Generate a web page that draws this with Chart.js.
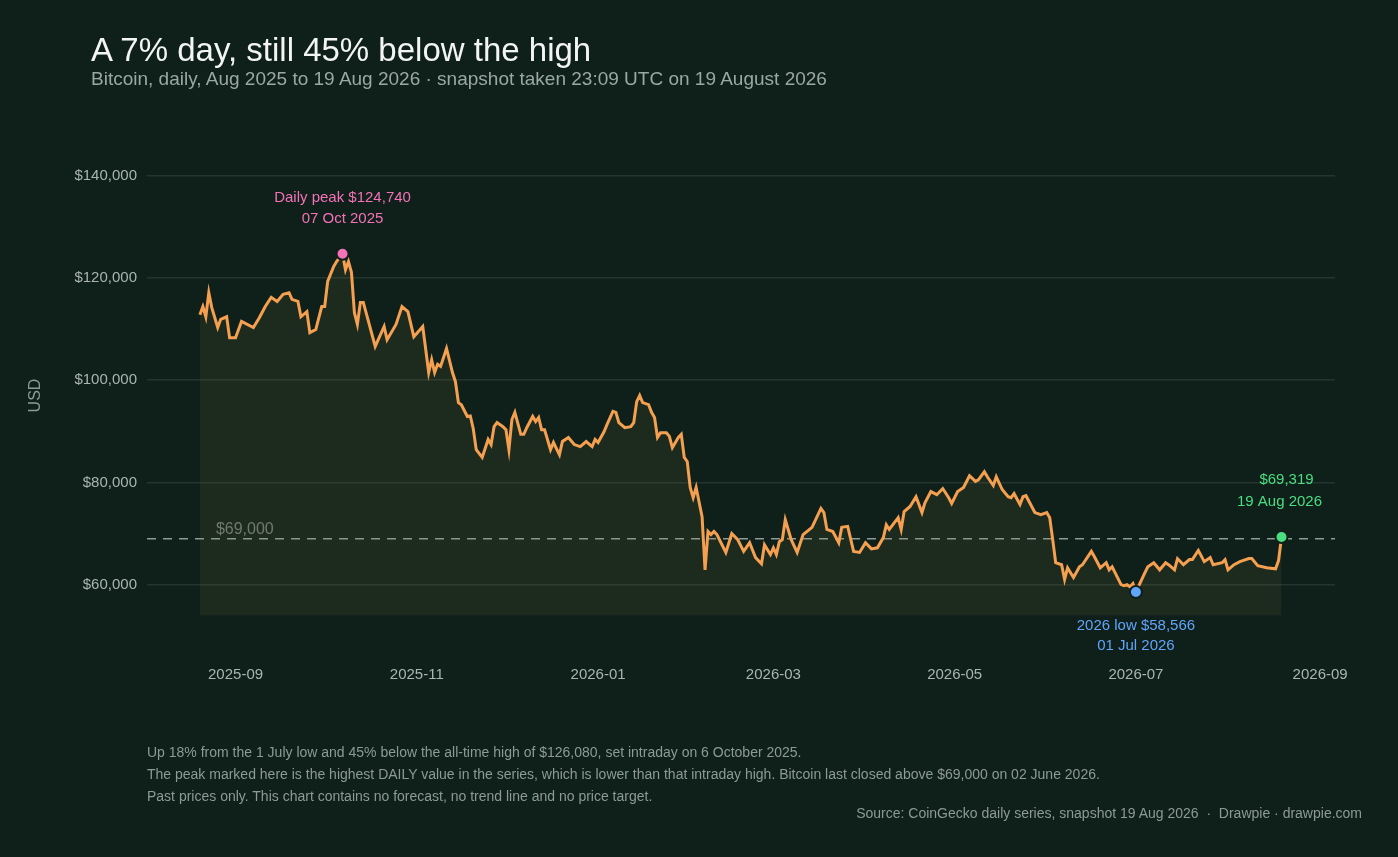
<!DOCTYPE html>
<html><head><meta charset="utf-8">
<script src="https://cdn.jsdelivr.net/npm/chart.js@4.4.1/dist/chart.umd.min.js"></script>
<style>
html,body{margin:0;padding:0;background:#0f1f1a;width:1398px;height:857px;overflow:hidden;font-family:"Liberation Sans",Arial,sans-serif}
#wrap{position:absolute;left:0;top:0;width:1398px;height:857px}
.t{position:absolute;white-space:nowrap}
</style></head><body>
<div id="wrap"><canvas id="c" width="1398" height="857"></canvas></div>
<div class="t" style="left:91px;top:31px;font-size:33px;color:#f2f5f3">A 7% day, still 45% below the high</div>
<div class="t" style="left:91px;top:68px;font-size:19px;color:#9aa8a2">Bitcoin, daily, Aug 2025 to 19 Aug 2026 · snapshot taken 23:09 UTC on 19 August 2026</div>
<div class="t" style="left:147px;top:741px;font-size:14px;line-height:22px;color:#8d9a95">Up 18% from the 1 July low and 45% below the all-time high of $126,080, set intraday on 6 October 2025.<br>The peak marked here is the highest DAILY value in the series, which is lower than that intraday high. Bitcoin last closed above $69,000 on 02 June 2026.<br>Past prices only. This chart contains no forecast, no trend line and no price target.</div>
<div class="t" style="right:36px;top:805px;font-size:14px;color:#8d9a95">Source: CoinGecko daily series, snapshot 19 Aug 2026 &nbsp;·&nbsp; Drawpie · drawpie.com</div>
<script>
// days since 20 Aug 2025
const startDate = Date.UTC(2025,7,20);
const days = [0,1,2,3,4,6,7,9,10,12,14,18,20,22,24,26,28,30,31,33,34,36,37,39,41,42,43,45,46,48,49,50,51,52,53,54,55,59,62,63,66,68,70,72,75,77,78,79,80,81,83,85,86,87,88,90,91,92,93,95,97,98,99,100,102,103,104,105,106,108,109,110,112,113,114,115,116,118,119,121,122,124,126,128,130,132,133,134,136,137,139,140,141,143,145,146,147,148,149,151,152,153,154,155,157,158,159,161,162,163,164,165,166,167,169,170,171,172,173,174,177,179,181,183,185,187,189,190,192,193,194,195,196,197,199,201,203,206,209,210,211,213,215,216,218,220,222,224,226,228,230,231,232,235,236,237,239,241,243,244,246,248,250,252,253,255,257,259,261,262,264,265,267,268,270,272,273,274,276,277,278,281,283,285,286,287,288,290,291,292,294,296,297,300,301,303,305,306,307,310,311,312,313,314,315,318,319,321,323,325,326,328,329,331,333,334,336,338,340,341,344,345,346,348,350,353,354,356,359,362,363,364];
const priceK = [112.8,114.4,112.4,117.1,114.2,110.3,111.9,112.4,108.3,108.3,111.5,110.3,112.2,114.4,116.2,115.4,116.8,117.1,115.8,115.4,112.4,113.4,109.3,109.9,114.4,114.4,119.3,122.2,123.2,124.74,121.6,123.2,121.1,113.2,110.9,115.2,115.2,106.6,110.5,107.9,110.9,114.4,113.4,108.5,110.5,101.5,104.0,101.5,103.1,102.7,106.2,101.5,99.7,95.6,95.2,92.9,93.0,90.5,86.4,84.9,88.4,87.4,90.9,91.7,90.9,90.3,86.4,92.3,93.7,89.4,89.4,90.7,92.9,91.9,92.7,90.3,90.3,86.4,87.8,85.4,88.0,88.8,87.4,87.0,88.0,87.0,88.4,87.8,89.9,91.3,93.9,93.7,91.7,90.7,90.9,91.7,95.8,97.0,95.6,95.2,93.7,92.7,88.8,89.7,89.7,89.0,86.8,88.8,89.4,84.9,84.1,79.0,77.0,79.0,73.3,62.9,70.4,69.8,70.4,69.8,66.3,70.0,68.8,66.5,68.2,65.3,64.1,67.8,65.9,67.2,65.9,68.4,68.8,72.7,68.8,66.3,69.8,71.2,74.9,74.1,70.8,70.4,68.2,71.2,71.4,66.5,66.3,68.2,67.0,67.2,69.2,71.7,70.8,73.1,70.8,74.3,75.3,77.2,74.1,76.0,78.2,77.6,78.8,77.0,75.9,78.2,79.0,81.3,80.2,80.5,82.1,81.1,79.4,81.1,78.6,77.2,77.0,77.8,75.7,77.2,77.4,74.1,73.7,74.1,73.1,68.8,64.3,63.9,61.0,63.3,61.4,63.5,63.9,66.5,65.5,63.3,64.3,62.9,63.5,60.0,59.8,60.0,59.6,60.2,58.566,62.3,63.5,64.3,62.9,64.3,63.9,62.9,65.1,63.9,64.9,64.9,66.7,64.5,65.3,63.9,64.3,64.9,62.9,63.9,64.5,65.1,65.1,63.7,63.3,63.1,64.7,69.319];
const tickMonths = ['2025-09','2025-11','2026-01','2026-03','2026-05','2026-07','2026-09'];
const yTicks = [60000,80000,100000,120000,140000];
const refLevel = 69000;
const fillFloor = 54000;
const markDays = [48,315,364];
const markLabels = [['Daily peak $124,740','07 Oct 2025'],['2026 low $58,566','01 Jul 2026'],['$69,319','19 Aug 2026']];
const markColors = ['#f472b6','#60a5fa','#4ade80'];

const pts = days.map((d,i)=>({x:d,y:priceK[i]*1000}));
const monthDay = m=>{const [y,mo]=m.split('-').map(Number);return (Date.UTC(y,mo-1,1)-startDate)/86400000;};
const markPts = markDays.map(d=>pts[days.indexOf(d)]);

const overlay = {id:'ov',
 beforeDatasetsDraw(ch){const {ctx,chartArea:a,scales:{x,y}}=ch;
  const yy=y.getPixelForValue(refLevel);
  ctx.save();ctx.strokeStyle='#8e9c97';ctx.lineWidth=1.5;ctx.setLineDash([9,7]);
  ctx.beginPath();ctx.moveTo(a.left,yy);ctx.lineTo(a.right,yy);ctx.stroke();ctx.setLineDash([]);
  ctx.fillStyle='#6f7d78';ctx.font='16px "Liberation Sans", Arial';ctx.textBaseline='bottom';
  ctx.fillText('$'+refLevel.toLocaleString('en-US'),x.getPixelForValue(days[0])+16,yy-1);ctx.restore();},
 afterDatasetsDraw(ch){const {ctx,scales:{x,y}}=ch;ctx.save();
  ctx.font='15px "Liberation Sans", Arial';ctx.textAlign='center';ctx.textBaseline='middle';
  markPts.forEach((p,i)=>{const px=x.getPixelForValue(p.x),py=y.getPixelForValue(p.y);
   ctx.fillStyle=markColors[i];
   let ys;
   if(i===0) ys=[py-56,py-35]; else if(i===1) ys=[py+34,py+54]; else ys=[py-57,py-35];
   const off = i===2?-2:0;
   ctx.fillText(markLabels[i][0],px+off+(i===2?7:0),ys[0]);ctx.fillText(markLabels[i][1],px+off,ys[1]);
  });ctx.restore();}
};

new Chart(document.getElementById('c'),{
 type:'line',
 data:{datasets:[
  {data:pts,borderColor:'#f4a050',borderWidth:3,pointRadius:0,tension:0,fill:{value:fillFloor},backgroundColor:'rgba(120,110,60,0.14)',order:2},
  {type:'scatter',data:markPts,pointRadius:6,pointBackgroundColor:markColors,pointBorderColor:'#0f1f1a',pointBorderWidth:2,order:1}
 ]},
 options:{responsive:false,animation:false,
  layout:{padding:{left:22,right:63,top:145,bottom:171}},
  plugins:{legend:{display:false},tooltip:{enabled:false}},
  scales:{
   x:{type:'linear',min:-17.8,max:382,grid:{display:false},border:{display:false},
      afterBuildTicks:s=>{s.ticks=tickMonths.map(m=>({value:monthDay(m)}));},
      afterFit:s=>{s.height=40;},
      ticks:{color:'#aab5b1',font:{size:15,family:'"Liberation Sans", Arial'},padding:12,maxRotation:0,autoSkip:false,
        callback:(v)=>{const i=tickMonths.findIndex(m=>monthDay(m)===v);return i>=0?tickMonths[i]:'';}}},
   y:{min:48000,max:146000,border:{display:false},
      grid:{color:'rgba(140,160,150,0.17)',lineWidth:1.5,drawTicks:false},
      afterBuildTicks:s=>{s.ticks=yTicks.map(v=>({value:v}));},
      afterFit:s=>{s.width=125;},
      title:{display:true,text:'USD',color:'#8d9a95',font:{size:16,family:'"Liberation Sans", Arial'},padding:{bottom:8}},
      ticks:{color:'#aab5b1',font:{size:15,family:'"Liberation Sans", Arial'},padding:10,
        callback:v=>'$'+Number(v).toLocaleString('en-US')}}
  }},
 plugins:[overlay]
});
</script></body></html>
